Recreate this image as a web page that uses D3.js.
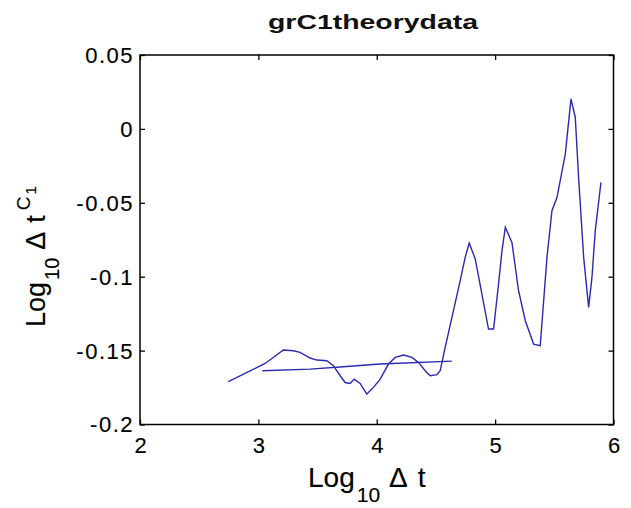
<!DOCTYPE html>
<html>
<head>
<meta charset="utf-8">
<script src="https://cdn.jsdelivr.net/npm/d3@7"></script>
<style>
  body { margin: 0; background: #fff; }
  svg { display: block; font-family: "Liberation Sans", Arial, sans-serif; }
</style>
</head>
<body>
<svg id="chart"></svg>
<script>
// data
const curveX = [2.746, 3.057, 3.211, 3.296, 3.352, 3.437, 3.494, 3.578, 3.634, 3.691, 3.733, 3.775, 3.809, 3.86, 3.916, 3.972, 4.029, 4.099, 4.156, 4.226, 4.297, 4.353, 4.409, 4.451, 4.508, 4.536,
  4.578, 4.648, 4.705, 4.747, 4.781, 4.832, 4.888, 4.944, 4.987, 5.029, 5.058, 5.086, 5.142, 5.198, 5.255, 5.325, 5.381, 5.438, 5.48, 5.523, 5.593, 5.641, 5.677, 5.705, 5.748, 5.79, 5.818, 5.846, 5.894];
const curveY = [-0.171, -0.1587, -0.1496, -0.1501, -0.1512, -0.155, -0.1564, -0.1569, -0.1602, -0.167, -0.1716, -0.1722, -0.1693, -0.1722, -0.1794, -0.1749, -0.1693, -0.1591, -0.1546, -0.153, -0.1546, -0.158, -0.1636, -0.167, -0.1663, -0.1636,
  -0.1478, -0.123, -0.1027, -0.0869, -0.0772, -0.088, -0.1117, -0.1354, -0.1354, -0.1049, -0.0824, -0.0666, -0.0768, -0.1095, -0.1298, -0.1456, -0.1467, -0.0869, -0.0553, -0.0463, -0.0169, 0.0203, 0.0079, -0.0328, -0.0869, -0.1208, -0.1005, -0.0688, -0.0362];

const fitX = [3.034, 3.437, 3.718, 4.028, 4.634];
const fitY = [-0.1636, -0.1625, -0.1609, -0.1591, -0.1571];

const xTicks = [2, 3, 4, 5, 6];
const yTicks = [-0.2, -0.15, -0.1, -0.05, 0, 0.05];
const yTickLabels = ["-0.2", "-0.15", "-0.1", "-0.05", "0", "0.05"];

const width = 631, height = 508;
const plotL = 140, plotR = 613.5, plotT = 55, plotB = 424.5;
const lineColor = "#2a2ab0";

const svg = d3.select("#chart")
  .attr("width", width)
  .attr("height", height);

const x = d3.scaleLinear().domain([2, 6]).range([plotL, plotR]);
const y = d3.scaleLinear().domain([-0.2, 0.05]).range([plotB, plotT]);

// axes, ticks pointing inward like matlab
const xAxis = svg.append("g")
  .attr("transform", `translate(0,${plotB})`)
  .call(d3.axisBottom(x).tickValues(xTicks).tickFormat(d3.format("d"))
    .tickSizeInner(-5).tickSizeOuter(0).tickPadding(13));

const yAxis = svg.append("g")
  .attr("transform", `translate(${plotL},0)`)
  .call(d3.axisLeft(y).tickValues(yTicks).tickFormat((d, i) => yTickLabels[i])
    .tickSizeInner(-5).tickSizeOuter(0).tickPadding(8));

svg.append("g")
  .attr("transform", `translate(0,${plotT})`)
  .call(d3.axisTop(x).tickValues(xTicks).tickFormat("").tickSizeInner(-5).tickSizeOuter(0));

svg.append("g")
  .attr("transform", `translate(${plotR},0)`)
  .call(d3.axisRight(y).tickValues(yTicks).tickFormat("").tickSizeInner(-5).tickSizeOuter(0));

svg.selectAll(".domain").remove();
svg.selectAll(".tick line").attr("stroke", "#000").attr("stroke-width", 1.3);

xAxis.selectAll("text")
  .attr("font-family", "Liberation Sans, Arial, sans-serif")
  .attr("font-size", 22)
  .attr("fill", "#000")
  .attr("stroke", "#000")
  .attr("stroke-width", 0.15);

yAxis.selectAll("text")
  .attr("font-family", "Liberation Sans, Arial, sans-serif")
  .attr("font-size", 22)
  .attr("letter-spacing", "1.5px")
  .attr("x", -6)
  .attr("dy", "0.34em")
  .attr("fill", "#000")
  .attr("stroke", "#000")
  .attr("stroke-width", 0.15);

// box
svg.append("rect")
  .attr("x", plotL).attr("y", plotT)
  .attr("width", plotR - plotL).attr("height", plotB - plotT)
  .attr("fill", "none")
  .attr("stroke", "#000")
  .attr("stroke-width", 1.5);

// lines
const line = d3.line().x(d => x(d[0])).y(d => y(d[1]));

svg.append("path")
  .datum(curveX.map((v, i) => [v, curveY[i]]))
  .attr("d", line)
  .attr("fill", "none")
  .attr("stroke", lineColor)
  .attr("stroke-width", 1.4);

svg.append("path")
  .datum(fitX.map((v, i) => [v, fitY[i]]))
  .attr("d", line)
  .attr("fill", "none")
  .attr("stroke", lineColor)
  .attr("stroke-width", 1.4);

// title
svg.append("text")
  .attr("x", 373)
  .attr("y", 29)
  .attr("text-anchor", "middle")
  .attr("font-weight", "bold")
  .attr("font-size", 21)
  .attr("textLength", 210)
  .attr("lengthAdjust", "spacingAndGlyphs")
  .attr("fill", "#111")
  .text("grC1theorydata");

// x label
const xl = svg.append("text")
  .attr("x", 308)
  .attr("y", 487)
  .attr("font-size", 28)
  .attr("fill", "#000")
  .attr("stroke", "#000")
  .attr("stroke-width", 0.15);
xl.append("tspan").text("Log");
xl.append("tspan").attr("font-size", 21).attr("dx", 2).attr("dy", 15).text("10");
xl.append("tspan").attr("dx", 9).attr("dy", -15).text("Δ");
xl.append("tspan").attr("dx", 10).text("t");

// y label
const yl = svg.append("text")
  .attr("transform", "translate(45,327) rotate(-90)")
  .attr("font-size", 27)
  .attr("fill", "#000")
  .attr("stroke", "#000")
  .attr("stroke-width", 0.15);
yl.append("tspan").text("Log");
yl.append("tspan").attr("font-size", 20).attr("dx", 2).attr("dy", 14).text("10");
yl.append("tspan").attr("dx", 8).attr("dy", -14).text("Δ");
yl.append("tspan").attr("dx", 9).text("t");
yl.append("tspan").attr("font-size", 19).attr("dx", 5).attr("dy", -15).text("C");
yl.append("tspan").attr("font-size", 15).attr("dx", 2).attr("dy", 6).text("1");
</script>
</body>
</html>
